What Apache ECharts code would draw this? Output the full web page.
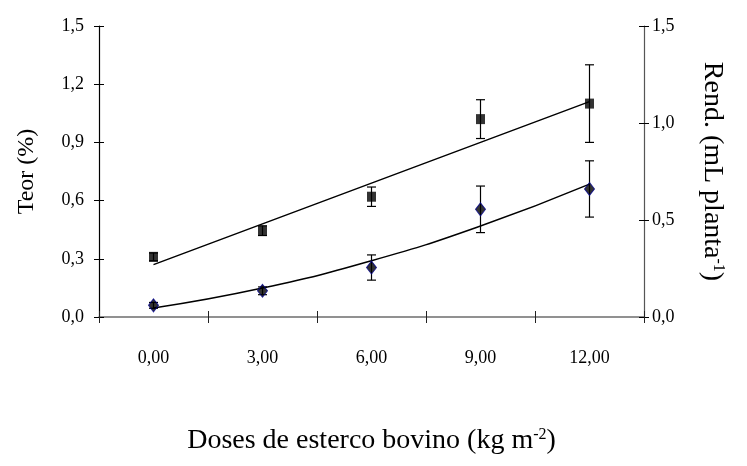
<!DOCTYPE html>
<html><head><meta charset="utf-8">
<script src="https://cdn.jsdelivr.net/npm/echarts@6/dist/echarts.min.js"></script>
<style>html,body{margin:0;padding:0;background:#fff}#c{width:747px;height:466px}</style>
</head><body><div id="c"></div>
<script>
var categories = ['0,00', '3,00', '6,00', '9,00', '12,00'];
var teorValues = [0.31, 0.445, 0.62, 1.02, 1.10];
var teorErrors = [0.02, 0.025, 0.05, 0.10, 0.20];
var teorTrend = [0.27, 0.48, 0.69, 0.90, 1.11];
var rendValues = [0.06, 0.135, 0.255, 0.555, 0.66];
var rendErrors = [0.015, 0.02, 0.065, 0.12, 0.145];
var rendTrend = [0.046, 0.149, 0.29, 0.469, 0.685];
var leftTicks = {min: 0, max: 1.5, interval: 0.3};
var rightTicks = {min: 0, max: 1.5, interval: 0.5};

var FONT = '"Liberation Serif", "Times New Roman", serif';
function fmt(v){ return v.toFixed(1).replace('.', ','); }
function errSeries(vals, errs, yIdx){
  return {
    type: 'custom', yAxisIndex: yIdx, z: 3,
    data: vals.map(function(v,i){ return [i, v - errs[i], v + errs[i]]; }),
    renderItem: function(params, api){
      var lo = api.coord([api.value(0), api.value(1)]);
      var hi = api.coord([api.value(0), api.value(2)]);
      var w = 4.5;
      var st = {stroke: '#000', lineWidth: 1.2};
      return {type: 'group', children: [
        {type: 'line', shape: {x1: hi[0], y1: hi[1], x2: lo[0], y2: lo[1]}, style: st},
        {type: 'line', shape: {x1: hi[0]-w, y1: hi[1], x2: hi[0]+w, y2: hi[1]}, style: st},
        {type: 'line', shape: {x1: lo[0]-w, y1: lo[1], x2: lo[0]+w, y2: lo[1]}, style: st}
      ]};
    }
  };
}
var yBase = {type: 'value', splitLine: {show: false}};
var chart = echarts.init(document.getElementById('c'));
chart.setOption({
  animation: false,
  backgroundColor: '#fff',
  grid: {left: 99, right: 103, top: 26, bottom: 149},
  xAxis: [{
    type: 'category', data: categories, boundaryGap: true, position: 'bottom',
    axisLine: {lineStyle: {color: '#6e6e6e', width: 1.5}},
    axisTick: {show: true, length: 6, lineStyle: {color: '#222', width: 1}},
    axisLabel: {color: '#000', fontFamily: FONT, fontSize: 18, margin: 32},
    name: 'Doses de esterco bovino (kg m{sup|-2})', nameLocation: 'middle', nameGap: 110,
    nameTextStyle: {color: '#000', fontFamily: FONT, fontSize: 28,
      rich: {sup: {fontSize: 16, fontFamily: FONT, color: '#000', verticalAlign: 'top', padding: [0,0,12,0]}}}
  }, {
    type: 'category', data: categories, boundaryGap: true, position: 'bottom',
    axisLine: {show: false}, axisLabel: {show: false},
    axisTick: {show: true, inside: true, length: 6, lineStyle: {color: '#222', width: 1}}
  }],
  yAxis: [Object.assign({}, yBase, {
    position: 'left', min: leftTicks.min, max: leftTicks.max, interval: leftTicks.interval,
    axisLine: {show: true, lineStyle: {color: '#000', width: 1.2}},
    axisTick: {show: true, length: 5, lineStyle: {color: '#000'}},
    axisLabel: {color: '#000', fontFamily: FONT, fontSize: 18, margin: 15, formatter: fmt},
    name: 'Teor (%)', nameLocation: 'middle', nameGap: 60, nameRotate: 90,
    nameTextStyle: {color: '#000', fontFamily: FONT, fontSize: 24}
  }), Object.assign({}, yBase, {
    position: 'right', min: rightTicks.min, max: rightTicks.max, interval: rightTicks.interval,
    axisLine: {show: true, lineStyle: {color: '#555', width: 1.2}},
    axisTick: {show: true, length: 5, lineStyle: {color: '#000'}},
    axisLabel: {color: '#000', fontFamily: FONT, fontSize: 18, margin: 8, formatter: fmt},
    name: 'Rend. (mL planta{sup|-1})', nameLocation: 'middle', nameGap: 54, nameRotate: -90,
    nameTextStyle: {color: '#000', fontFamily: FONT, fontSize: 28,
      rich: {sup: {fontSize: 16, fontFamily: FONT, color: '#000', verticalAlign: 'top', padding: [0,0,12,0]}}}
  }), Object.assign({}, yBase, {
    position: 'left', min: leftTicks.min, max: leftTicks.max, interval: leftTicks.interval,
    axisLine: {show: false}, axisLabel: {show: false},
    axisTick: {show: true, inside: true, length: 5, lineStyle: {color: '#000'}}
  }), Object.assign({}, yBase, {
    position: 'right', min: rightTicks.min, max: rightTicks.max, interval: rightTicks.interval,
    axisLine: {show: false}, axisLabel: {show: false},
    axisTick: {show: true, inside: true, length: 5, lineStyle: {color: '#000'}}
  })],
  series: [
    errSeries(teorValues, teorErrors, 0),
    errSeries(rendValues, rendErrors, 1),
    {type: 'line', yAxisIndex: 0, data: teorTrend, showSymbol: false, symbol: 'none', z: 4,
     lineStyle: {color: '#000', width: 1.5}},
    {type: 'line', yAxisIndex: 1, data: rendTrend, smooth: true, showSymbol: false, symbol: 'none', z: 4,
     lineStyle: {color: '#000', width: 1.5}},
    {type: 'scatter', yAxisIndex: 0, data: teorValues, symbol: 'rect', symbolSize: [9, 10], z: 5,
     itemStyle: {color: '#000', borderColor: '#000', borderWidth: 0}},
    {type: 'scatter', yAxisIndex: 1, data: rendValues, symbol: 'diamond', symbolSize: [10, 13], z: 5,
     itemStyle: {color: '#000', borderColor: '#00008b', borderWidth: 1}}
  ]
});
</script></body></html>
